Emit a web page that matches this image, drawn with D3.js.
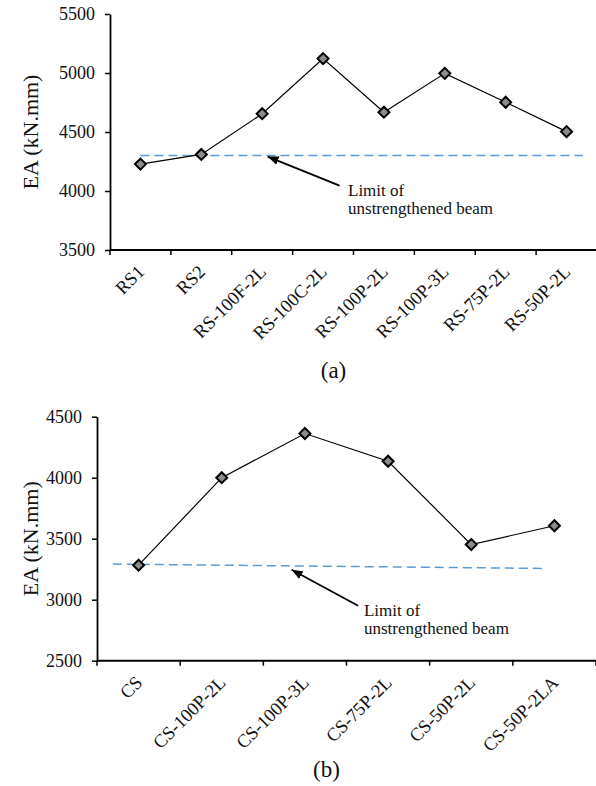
<!DOCTYPE html>
<html>
<head>
<meta charset="utf-8">
<script src="https://cdn.jsdelivr.net/npm/d3@7"></script>
<style>
  body { margin: 0; background: #fff; }
  text { font-family: "Liberation Serif", "Times New Roman", serif; fill: #111; }
</style>
</head>
<body>
<script>
// panel (a) - RS beams
var catsA = ["RS1","RS2","RS-100F-2L","RS-100C-2L","RS-100P-2L","RS-100P-3L","RS-75P-2L","RS-50P-2L"];
var valsA = [4228, 4310, 4655, 5122, 4668, 4997, 4752, 4503];
var ticksA = [3500, 4000, 4500, 5000, 5500];
// limit line: [category position (band units), EA]
var limitA = [[0.5, 4300], [7.77, 4300]];

// panel (b) - CS beams
var catsB = ["CS","CS-100P-2L","CS-100P-3L","CS-75P-2L","CS-50P-2L","CS-50P-2LA"];
var valsB = [3283, 4000, 4362, 4135, 3452, 3606];
var ticksB = [2500, 3000, 3500, 4000, 4500];
var limitB = [[0.19, 3292], [5.39, 3256]];

var W = 596, H = 786;
var svg = d3.select("body").append("svg")
  .attr("width", W).attr("height", H);

var defs = svg.append("defs");
defs.append("marker")
  .attr("id", "arrow")
  .attr("viewBox", "0 0 10 8")
  .attr("refX", 10).attr("refY", 4)
  .attr("markerWidth", 11).attr("markerHeight", 9)
  .attr("markerUnits", "userSpaceOnUse")
  .attr("orient", "auto")
  .append("path").attr("d", "M0,0L10,4L0,8Z").attr("fill", "#000");

drawPanel({
  cats: catsA, vals: valsA, ticks: ticksA, limit: limitA,
  left: 110, right: 597, top: 14, bottom: 250,
  arrowTip: [2.59, 4292], arrowTail: [3.77, 4045], note: [3.91, 3955],
  caption: "(a)", captionY: 378
});
drawPanel({
  cats: catsB, vals: valsB, ticks: ticksB, limit: limitB,
  left: 97, right: 596, top: 416.7, bottom: 660.7,
  arrowTip: [2.34, 3245], arrowTail: [3.14, 2950], note: [3.21, 2870],
  caption: "(b)", captionY: 777
});

function drawPanel(c) {
  var x = d3.scaleBand().domain(c.cats).range([c.left, c.right]).padding(0);
  var xi = d3.scaleLinear().domain([0, c.cats.length]).range([c.left, c.right]);
  var y = d3.scaleLinear().domain([c.ticks[0], c.ticks[c.ticks.length - 1]]).range([c.bottom, c.top]);
  var g = svg.append("g");

  // y axis
  var ya = g.append("g").attr("transform", "translate(" + c.left + ",0)")
    .call(d3.axisLeft(y).tickValues(c.ticks).tickFormat(d3.format("d"))
      .tickSize(5).tickPadding(10).tickSizeOuter(0));
  ya.select(".domain").attr("stroke", "#000").attr("stroke-width", 1.8);
  ya.selectAll(".tick line").attr("stroke", "#000").attr("stroke-width", 1.5);
  ya.selectAll(".tick text").style("font-size", "18px").style("font-family", "Liberation Serif").attr("fill", "#111");

  // x axis: ticks at band boundaries
  var xa = g.append("g").attr("transform", "translate(0," + c.bottom + ")");
  xa.append("line").attr("x1", c.left).attr("x2", c.right)
    .attr("stroke", "#000").attr("stroke-width", 2);
  xa.selectAll(".xt").data(d3.range(c.cats.length + 1)).enter().append("line")
    .attr("class", "xt")
    .attr("x1", d => xi(d)).attr("x2", d => xi(d))
    .attr("y1", 0).attr("y2", 5)
    .attr("stroke", "#000").attr("stroke-width", 1.5);
  xa.selectAll(".xl").data(c.cats).enter().append("text")
    .attr("class", "xl")
    .attr("transform", d => "translate(" + (x(d) + x.bandwidth() / 2 + 5) + ",23) rotate(-45)")
    .attr("text-anchor", "end")
    .style("font-size", "18.5px")
    .text(d => d);

  // y title
  g.append("text")
    .attr("transform", "translate(38," + ((c.top + c.bottom) / 2) + ") rotate(-90)")
    .attr("text-anchor", "middle")
    .style("font-size", "22px")
    .text("EA (kN.mm)");

  // limit line
  g.append("path")
    .datum(c.limit)
    .attr("d", d3.line().x(d => xi(d[0])).y(d => y(d[1])))
    .attr("fill", "none")
    .attr("stroke", "#5b9bd5")
    .attr("stroke-width", 1.5)
    .attr("stroke-dasharray", "9,5");

  // data line
  var pts = c.cats.map((d, i) => [x(d) + x.bandwidth() / 2, y(c.vals[i])]);
  g.append("path")
    .datum(pts)
    .attr("d", d3.line())
    .attr("fill", "none")
    .attr("stroke", "#000")
    .attr("stroke-width", 1.2);
  g.selectAll(".mk").data(pts).enter().append("path")
    .attr("class", "mk")
    .attr("transform", d => "translate(" + d[0] + "," + d[1] + ")")
    .attr("d", "M0,-5.5L5.5,0L0,5.5L-5.5,0Z")
    .attr("fill", "#8c8c8c")
    .attr("stroke", "#000")
    .attr("stroke-width", 2);

  // annotation
  g.append("line")
    .attr("x1", xi(c.arrowTail[0])).attr("y1", y(c.arrowTail[1]))
    .attr("x2", xi(c.arrowTip[0])).attr("y2", y(c.arrowTip[1]))
    .attr("stroke", "#000").attr("stroke-width", 1.8)
    .attr("marker-end", "url(#arrow)");
  var note = g.append("text")
    .attr("x", xi(c.note[0])).attr("y", y(c.note[1]))
    .style("font-size", "17px");
  note.append("tspan").attr("x", xi(c.note[0])).text("Limit of");
  note.append("tspan").attr("x", xi(c.note[0])).attr("dy", 18).text("unstrengthened beam");

  // caption
  g.append("text")
    .attr("x", (c.left + c.right) / 2 - 20).attr("y", c.captionY)
    .attr("text-anchor", "middle")
    .style("font-size", "23px")
    .text(c.caption);
}
</script>
</body>
</html>
